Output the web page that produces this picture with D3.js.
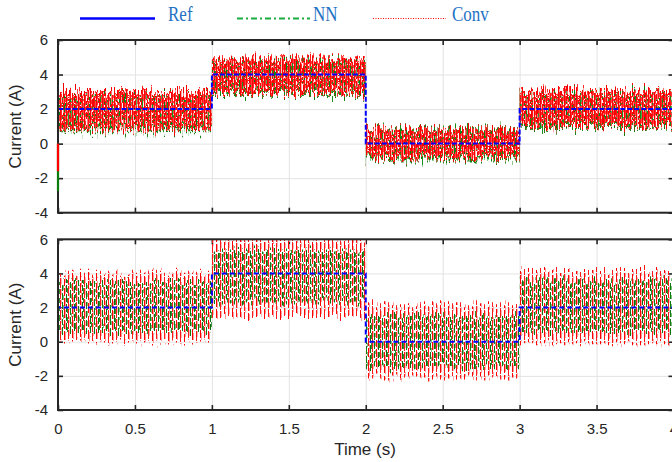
<!DOCTYPE html>
<html>
<head>
<meta charset="utf-8">
<script src="https://cdn.jsdelivr.net/npm/d3@7"></script>
<style>
  html, body { margin: 0; padding: 0; background: #fff; }
  svg { display: block; }
</style>
</head>
<body>
<svg id="chart" width="672" height="462"></svg>
<script>
// Step boundaries of the reference current (s)
const stepTimes = [0, 1, 2, 3, 4];
// Reference current: starts at 0 A and steps to 2 A at t = 0
const refTimes = [0, 0, 1, 2, 3, 4];
const refValues = [0, 2, 4, 0, 2, 2];

// Upper panel: measured current band per step (A)
const nnLowA = [0.72, 2.82, -0.92, 0.9];
const nnHighA = [2.95, 4.85, 0.85, 3.0];
const convLowA = [0.8, 2.9, -0.82, 1.0];
const convHighA = [3.05, 4.95, 0.82, 3.1];
// Start-up dip at t = 0 (A): NN, Conv
const startDipA = [-2.75, -1.6];

// Lower panel: measured current band per step (A)
const nnLowB = [0.5, 2.3, -1.5, 0.5];
const nnHighB = [3.5, 5.4, 1.5, 3.6];
const convLowB = [-0.05, 1.45, -2.15, -0.15];
const convHighB = [4.1, 6.1, 2.25, 4.2];

const xTicks = [0, 0.5, 1, 1.5, 2, 2.5, 3, 3.5, 4];
const yTicks = [-4, -2, 0, 2, 4, 6];
const legendNames = ["Ref", "NN", "Conv"];

const svg = d3.select("#chart");
const axisColor = "#262626";
const tickFont = "'Liberation Sans', Arial, sans-serif";

const x = d3.scaleLinear().domain([0, 4]).range([58, 673.5]);

const panels = [
  { id: "a", top: 40, bottom: 212.7, nnLow: nnLowA, nnHigh: nnHighA,
    convLow: convLowA, convHigh: convHighA, xLabels: false },
  { id: "b", top: 239.3, bottom: 410, nnLow: nnLowB, nnHigh: nnHighB,
    convLow: convLowB, convHigh: convHighB, xLabels: true }
];

const defs = svg.append("defs");

function addPattern(id, w, h, cells) {
  const p = defs.append("pattern").attr("id", id)
    .attr("patternUnits", "userSpaceOnUse")
    .attr("width", w).attr("height", h);
  cells.forEach(c => p.append("rect")
    .attr("x", c[0]).attr("y", c[1]).attr("width", c[2]).attr("height", c[3])
    .attr("fill", c[4]).attr("shape-rendering", "crispEdges"));
}

// dense ripple texture for the upper panel
addPattern("convTexA", 6, 8, [
  [0, 0, 1, 8, "#ff0000"],
  [1, 0, 1, 5, "#ff2a2a"], [1, 5, 1, 3, "#ffa8a8"],
  [2, 0, 1, 2, "#ffffff"], [2, 2, 1, 3, "#ff0000"], [2, 7, 1, 1, "#ff0000"],
  [3, 0, 1, 3, "#ff7070"], [3, 3, 1, 5, "#f00000"],
  [4, 0, 1, 3, "#ff1515"], [4, 5, 1, 3, "#ff1515"],
  [5, 0, 1, 2, "#ffc8c8"], [5, 4, 1, 4, "#ff4040"]
]);
addPattern("nnTexA", 5, 7, [
  [0, 0, 1, 7, "#138a13"],
  [1, 0, 1, 4, "#55aa55"], [1, 4, 1, 3, "#0c7a0c"],
  [2, 0, 1, 7, "#1a8f1a"],
  [3, 0, 1, 3, "#ffffff"], [3, 3, 1, 4, "#2e9a2e"],
  [4, 0, 1, 7, "#0f800f"]
]);
// oscillating strokes for the lower panel
addPattern("convTexB", 8, 11, [
  [0, 0, 1, 9, "#ff0000"],
  [1, 2, 1, 8, "#ff9a9a"],
  [4, 1, 1, 10, "#ff1a1a"],
  [5, 0, 1, 6, "#ffb4b4"]
]);
addPattern("nnTexB", 8, 9, [
  [2, 0, 1, 7, "#0b700b"],
  [3, 1, 1, 5, "#2f8f2f"],
  [6, 2, 1, 7, "#137a13"],
  [7, 0, 1, 4, "#7cbf7c"]
]);

// vertical-only ripple on the measured bands
function addRipple(id, freq, scale, seed, top, bottom) {
  const f = defs.append("filter").attr("id", id)
    .attr("filterUnits", "userSpaceOnUse")
    .attr("x", 40).attr("y", top - 20).attr("width", 650).attr("height", bottom - top + 40)
    .attr("color-interpolation-filters", "sRGB");
  f.append("feTurbulence").attr("type", "fractalNoise")
    .attr("baseFrequency", freq).attr("numOctaves", 2).attr("seed", seed).attr("result", "noise");
  f.append("feColorMatrix").attr("in", "noise").attr("type", "matrix")
    .attr("values", "0 0 0 0 0.5  0 1 0 0 0  0 0 0 0 0  0 0 0 0 1").attr("result", "shift");
  f.append("feDisplacementMap").attr("in", "SourceGraphic").attr("in2", "shift")
    .attr("scale", scale).attr("xChannelSelector", "R").attr("yChannelSelector", "G");
}
addRipple("rippleA", "0.9 0.06", 26, 7, panels[0].top, panels[0].bottom);
addRipple("rippleB", "0.7 0.012", 18, 3, panels[1].top, panels[1].bottom);

function bandPoints(low, high) {
  const pts = low.map((lo, i) => ({ t: stepTimes[i], lo: lo, hi: high[i] }));
  const last = low.length - 1;
  pts.push({ t: stepTimes[last + 1], lo: low[last], hi: high[last] });
  return pts;
}

panels.forEach((p) => {
  const y = d3.scaleLinear().domain([-4, 6]).range([p.bottom, p.top]);
  const h = p.bottom - p.top;
  const left = x.range()[0], right = x.range()[1];
  const g = svg.append("g");

  // grid
  g.append("g").attr("transform", `translate(0,${p.bottom})`)
    .call(d3.axisBottom(x).tickValues(xTicks).tickSize(-h).tickFormat(""))
    .call(s => s.select(".domain").remove())
    .call(s => s.selectAll("line").attr("stroke", "#e3e3e3").attr("stroke-width", 1));
  g.append("g").attr("transform", `translate(${left},0)`)
    .call(d3.axisLeft(y).tickValues(yTicks).tickSize(-(right - left)).tickFormat(""))
    .call(s => s.select(".domain").remove())
    .call(s => s.selectAll("line").attr("stroke", "#e3e3e3").attr("stroke-width", 1));

  // inward ticks on all four sides
  const styleTicks = s => {
    s.select(".domain").remove();
    s.selectAll("line").attr("stroke", axisColor).attr("stroke-width", 1.6);
    s.selectAll("text").attr("fill", axisColor).attr("font-family", tickFont).attr("font-size", 15);
  };
  g.append("g").attr("transform", `translate(0,${p.bottom})`)
    .call(d3.axisBottom(x).tickValues(xTicks).tickSize(-5).tickPadding(13)
      .tickFormat(p.xLabels ? (d => String(d)) : ""))
    .call(styleTicks);
  g.append("g").attr("transform", `translate(0,${p.top})`)
    .call(d3.axisTop(x).tickValues(xTicks).tickSize(-5).tickFormat(""))
    .call(styleTicks);
  g.append("g").attr("transform", `translate(${left},0)`)
    .call(d3.axisLeft(y).tickValues(yTicks).tickSize(-5).tickPadding(10).tickFormat(d => String(d)))
    .call(styleTicks);
  g.append("g").attr("transform", `translate(${right},0)`)
    .call(d3.axisRight(y).tickValues(yTicks).tickSize(-5).tickFormat(""))
    .call(styleTicks);

  // measured bands
  const clipId = "clip-" + p.id;
  defs.append("clipPath").attr("id", clipId)
    .append("rect").attr("x", left).attr("y", p.top).attr("width", right - left).attr("height", h);

  const area = d3.area().x(d => x(d.t)).y0(d => y(d.lo)).y1(d => y(d.hi)).curve(d3.curveStepAfter);
  const dataG = g.append("g").attr("clip-path", `url(#${clipId})`);
  const noisy = dataG.append("g").attr("filter", `url(#ripple${p.id.toUpperCase()})`);

  if (p.id === "a") {
    noisy.append("path").attr("d", area(bandPoints(p.nnLow, p.nnHigh))).attr("fill", "url(#nnTexA)");
    noisy.append("path").attr("d", area(bandPoints(p.convLow, p.convHigh))).attr("fill", "url(#convTexA)");
  } else {
    noisy.append("path").attr("d", area(bandPoints(p.convLow, p.convHigh))).attr("fill", "url(#convTexB)");
    noisy.append("path").attr("d", area(bandPoints(p.nnLow, p.nnHigh))).attr("fill", "url(#nnTexB)");
  }

  // reference
  const refLine = d3.line().x((d, i) => x(refTimes[i])).y(d => y(d)).curve(d3.curveStepAfter);
  dataG.append("path").attr("d", refLine(refValues))
    .attr("fill", "none").attr("stroke", "#0000ff").attr("stroke-width", 2)
    .attr("stroke-dasharray", p.id === "a" ? "5,2" : "5,3");

  // box
  g.append("rect").attr("x", left).attr("y", p.top).attr("width", right - left).attr("height", h)
    .attr("fill", "none").attr("stroke", axisColor).attr("stroke-width", 2);

  // start-up dip
  if (p.id === "a") {
    g.append("line").attr("x1", x(0)).attr("x2", x(0)).attr("y1", y(0)).attr("y2", y(startDipA[0]))
      .attr("stroke", "#0b7d0b").attr("stroke-width", 2.2);
    g.append("line").attr("x1", x(0)).attr("x2", x(0)).attr("y1", y(0)).attr("y2", y(startDipA[1]))
      .attr("stroke", "#ff0000").attr("stroke-width", 2.2);
  }

  // y label
  g.append("text")
    .attr("transform", `translate(17,${(p.top + p.bottom) / 2}) rotate(-90)`)
    .attr("text-anchor", "middle").attr("dominant-baseline", "middle")
    .attr("font-family", tickFont).attr("font-size", 17).attr("fill", axisColor)
    .text("Current (A)");
});

// x label
svg.append("text").attr("x", (x.range()[0] + 672) / 2).attr("y", 455)
  .attr("text-anchor", "middle").attr("font-family", tickFont).attr("font-size", 17)
  .attr("fill", axisColor).text("Time (s)");

// legend
const legend = svg.append("g");
const legendItems = [
  { name: legendNames[0], x1: 80, x2: 155, tx: 168, color: "#0000ff", width: 2.5, dash: null },
  { name: legendNames[1], x1: 237, x2: 310, tx: 313, color: "#1aab40", width: 1.8, dash: "6,3,2,3" },
  { name: legendNames[2], x1: 373, x2: 446, tx: 452, color: "#ff0000", width: 1.2, dash: "1,1.5" }
];
legendItems.forEach(it => {
  legend.append("line").attr("x1", it.x1).attr("x2", it.x2).attr("y1", 18.5).attr("y2", 18.5)
    .attr("stroke", it.color).attr("stroke-width", it.width)
    .attr("stroke-dasharray", it.dash);
  legend.append("text").attr("transform", `translate(${it.tx},21) scale(1,1.22)`)
    .attr("font-family", "'Liberation Serif', 'Times New Roman', serif").attr("font-size", 17)
    .attr("fill", "#1f72c4").text(it.name);
});
</script>
</body>
</html>
